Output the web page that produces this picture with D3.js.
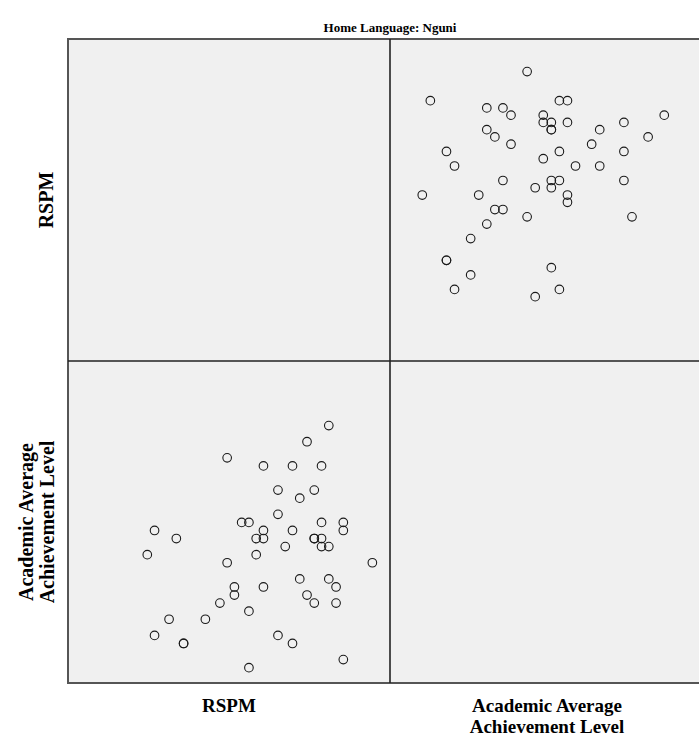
<!DOCTYPE html>
<html>
<head>
<meta charset="utf-8">
<script src="https://cdn.jsdelivr.net/npm/d3@7"></script>
<style>
  body { margin: 0; background: #fff; }
  text { font-family: "Liberation Serif", "DejaVu Serif", serif; font-weight: bold; fill: #000; }
</style>
</head>
<body>
<script>
var width = 699;
var height = 740;

// variables of the matrix (row / column order)
var variables = ['RSPM', 'AAAL'];
var varLabels = {
  RSPM: ['RSPM'],
  AAAL: ['Academic Average', 'Achievement Level']
};

// one value per case
var rspm = [51, 47, 47, 47, 46, 46, 45, 45, 44, 44, 44, 43, 43, 44, 45, 43, 43, 42, 41, 42, 41,
            40, 40, 40, 39, 38, 38, 38, 36, 36, 36, 36, 35, 35, 34, 34, 34, 33, 32, 32, 31, 31,
            30, 28, 25, 25, 24, 23, 21, 21, 20];
var aaal = [53, 41, 57, 58, 48, 50, 51, 55, 55, 56, 58, 56, 56, 65, 70, 62, 48, 49, 51, 68, 61,
            43, 57, 65, 55, 44, 59, 62, 50, 56, 57, 65, 54, 56, 40, 47, 58, 58, 49, 50, 53, 66,
            48, 46, 43, 43, 56, 46, 44, 57, 54];

var data = rspm.map(function (d, i) {
  return { RSPM: d, AAAL: aaal[i] };
});

// axis ranges used by each variable as column (x) and as row (y)
var xDomain = { RSPM: [9.08, 53.43], AAAL: [36.0, 75.92] };
var yDomain = { RSPM: [11.14, 55.49], AAAL: [38.1, 78.0] };

var margin = { left: 68, top: 39 };
var cell = 322;

var svg = d3.select('body')
            .append('svg')
            .attr('width', width)
            .attr('height', height);

svg.append('text')
   .attr('x', 390)
   .attr('y', 32)
   .attr('text-anchor', 'middle')
   .style('font-size', '13px')
   .text('Home Language: Nguni');

var cells = [];
variables.forEach(function (rowVar, r) {
  variables.forEach(function (colVar, c) {
    cells.push({ row: r, col: c, rowVar: rowVar, colVar: colVar });
  });
});

var g = svg.selectAll('.cell')
           .data(cells)
           .enter()
           .append('g')
           .attr('class', 'cell')
           .attr('transform', function (d) {
             return 'translate(' + (margin.left + d.col * cell) + ',' + (margin.top + d.row * cell) + ')';
           });

g.append('rect')
 .attr('width', cell)
 .attr('height', cell)
 .attr('fill', '#f0f0f0');

g.each(function (d) {
  if (d.rowVar === d.colVar) return;
  var x = d3.scaleLinear().domain(xDomain[d.colVar]).range([0, cell]);
  var y = d3.scaleLinear().domain(yDomain[d.rowVar]).range([cell, 0]);
  d3.select(this).selectAll('circle')
    .data(data)
    .enter()
    .append('circle')
    .attr('cx', function (p) { return x(p[d.colVar]); })
    .attr('cy', function (p) { return y(p[d.rowVar]); })
    .attr('r', 4.3)
    .attr('fill', 'none')
    .attr('stroke', '#1a1a1a')
    .attr('stroke-width', 1.1);
});

// frame
var frame = svg.append('g').attr('fill', 'none');
frame.append('rect')
     .attr('x', margin.left)
     .attr('y', margin.top)
     .attr('width', cell * 2)
     .attr('height', cell * 2)
     .attr('stroke', '#555')
     .attr('stroke-width', 2);
frame.append('line')
     .attr('x1', margin.left + cell).attr('x2', margin.left + cell)
     .attr('y1', margin.top).attr('y2', margin.top + cell * 2)
     .attr('stroke', '#222').attr('stroke-width', 1.6);
frame.append('line')
     .attr('x1', margin.left).attr('x2', margin.left + cell * 2)
     .attr('y1', margin.top + cell).attr('y2', margin.top + cell)
     .attr('stroke', '#222').attr('stroke-width', 1.6);

// column labels
variables.forEach(function (v, i) {
  var lines = varLabels[v];
  var cx = margin.left + cell * i + cell / 2 + (i === 1 ? -4 : 0);
  svg.append('text')
     .attr('text-anchor', 'middle')
     .attr('x', cx)
     .attr('y', 712)
     .style('font-size', '19px')
     .selectAll('tspan')
     .data(lines)
     .enter()
     .append('tspan')
     .attr('x', cx)
     .attr('dy', function (d, j) { return j === 0 ? 0 : 21; })
     .text(function (d) { return d; });
});

// row labels
variables.forEach(function (v, i) {
  var lines = varLabels[v];
  var cy = margin.top + cell * i + cell / 2;
  var x0 = lines.length > 1 ? 33 : 53;
  svg.append('text')
     .attr('text-anchor', 'middle')
     .attr('transform', 'translate(' + x0 + ',' + cy + ') rotate(-90)')
     .style('font-size', '20px')
     .selectAll('tspan')
     .data(lines)
     .enter()
     .append('tspan')
     .attr('x', 0)
     .attr('dy', function (d, j) { return j === 0 ? 0 : 21; })
     .text(function (d) { return d; });
});
</script>
</body>
</html>
